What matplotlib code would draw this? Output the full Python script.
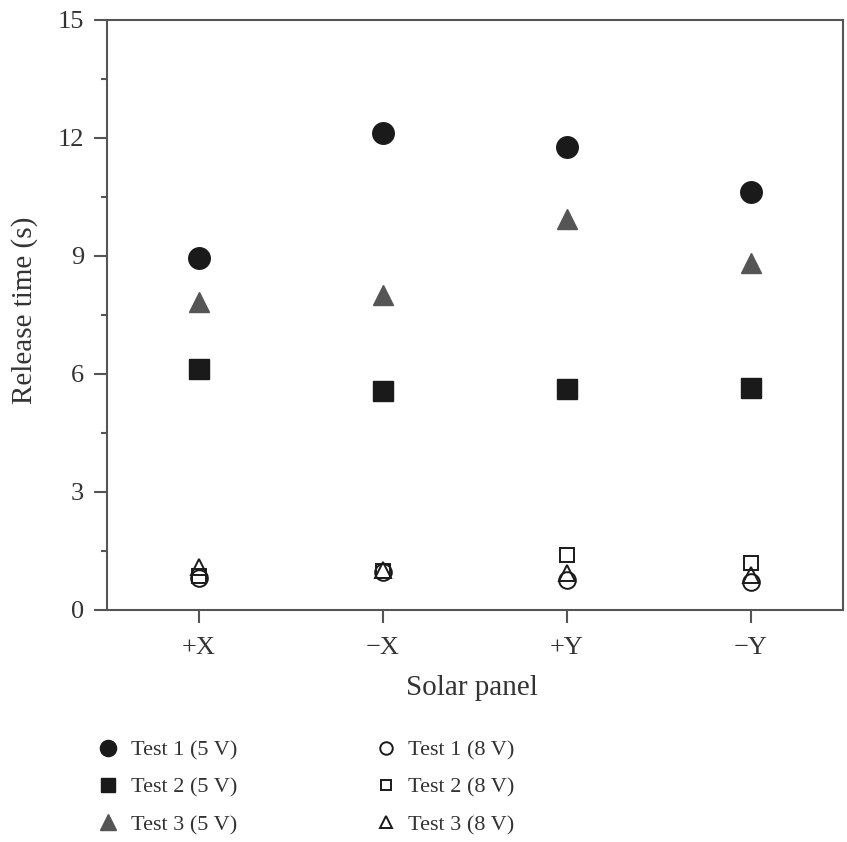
import matplotlib
matplotlib.use("Agg")
import matplotlib.pyplot as plt
from matplotlib.ticker import MultipleLocator

panels = ["+X", "\u2212X", "+Y", "\u2212Y"]
test1_5v = [8.95, 12.13, 11.76, 10.63]
test2_5v = [6.13, 5.57, 5.62, 5.64]
test3_5v = [7.83, 8.01, 9.94, 8.82]
test1_8v = [0.81, 0.97, 0.76, 0.71]
test2_8v = [0.86, 1.00, 1.40, 1.19]
test3_8v = [1.10, 1.02, 0.93, 0.89]
labels = ["Test 1 (5 V)", "Test 2 (5 V)", "Test 3 (5 V)",
          "Test 1 (8 V)", "Test 2 (8 V)", "Test 3 (8 V)"]

plt.rcParams['font.family'] = ['Liberation Serif', 'DejaVu Serif']

fig = plt.figure(figsize=(8.47, 8.42), dpi=100)
ax = fig.add_axes([107/847, 1-610/842, (843-107)/847, (610-20)/842])

x = list(range(1, len(panels)+1))
dark = '#1a1a1a'
grey = '#555555'
txt = '#333333'
h1, = ax.plot(x, test1_5v, 'o', ms=15.5, color=dark, ls='none', zorder=3)
h2, = ax.plot(x, test2_5v, 's', ms=14, color=dark, ls='none', zorder=3)
h3, = ax.plot(x, test3_5v, '^', ms=15, color=grey, ls='none', zorder=3)
h4, = ax.plot(x, test1_8v, 'o', ms=12, mfc='none', mec=dark, mew=1.4, ls='none', zorder=4)
h5, = ax.plot(x, test2_8v, 's', ms=10, mfc='none', mec=dark, mew=1.4, ls='none', zorder=4)
h6, = ax.plot(x, test3_8v, '^', ms=11, mfc='none', mec=dark, mew=1.4, ls='none', zorder=4)

ax.set_xlim(0.5, len(panels)+0.5)
ax.set_ylim(0, 15)
ax.set_xticks(x)
ax.set_xticklabels(panels)
ax.yaxis.set_major_locator(MultipleLocator(3))
ax.yaxis.set_minor_locator(MultipleLocator(1.5))
spine_c = '#555555'
for s in ax.spines.values():
    s.set_color(spine_c)
    s.set_linewidth(1.5)
ax.tick_params(axis='both', which='major', direction='out', length=9.5, width=1.5,
               color=spine_c, labelsize=19, labelcolor=txt)
ax.tick_params(axis='y', which='major', pad=7)
ax.tick_params(axis='x', which='major', pad=10)
ax.tick_params(axis='y', which='minor', direction='out', length=4.5, width=1.5, color=spine_c)
ax.tick_params(top=False, right=False)

ax.set_xlabel("Solar panel", fontsize=21, color=txt, va='center', ha='center')
ax.set_ylabel("Release time (s)", fontsize=21, color=txt, va='center', ha='center')
ax.xaxis.set_label_coords((472-107)/736, (610-688)/590)
ax.yaxis.set_label_coords((25-107)/736, (610-310)/590)

leg = fig.legend([h1, h2, h3, h4, h5, h6], labels, ncol=2, frameon=False,
                 loc='upper left', bbox_to_anchor=(95/847, 1-740/842),
                 fontsize=16, labelspacing=0.75, columnspacing=6.1,
                 handletextpad=0.4, handlelength=1.2, borderaxespad=0, borderpad=0,
                 markerscale=0.75)
for t in leg.get_texts():
    t.set_color(txt)

fig.savefig("out.png", dpi=100)
